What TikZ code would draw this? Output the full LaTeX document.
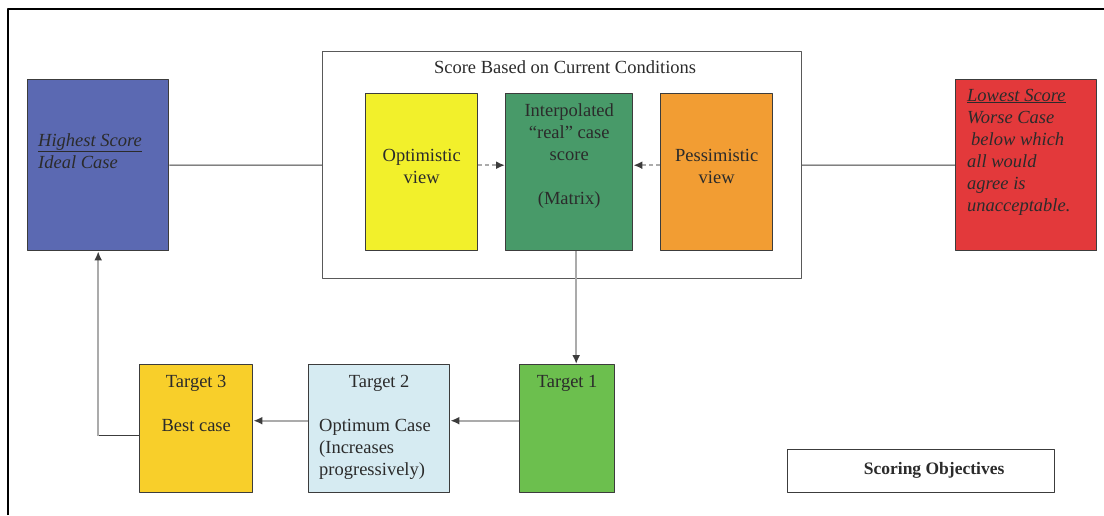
\documentclass[tikz,border=0pt]{standalone}
\usepackage{fontspec}
\setmainfont{Liberation Serif}
\usetikzlibrary{arrows.meta}
\definecolor{edge}{HTML}{3C3C3C}
\definecolor{ink}{HTML}{2B2B2B}
\definecolor{flowgray}{HTML}{ABABAB}
\definecolor{idealblue}{HTML}{5B69B2}
\definecolor{optyellow}{HTML}{F2F02B}
\definecolor{interpgreen}{HTML}{489A69}
\definecolor{pessorange}{HTML}{F29D33}
\definecolor{worstred}{HTML}{E3393B}
\definecolor{tonegreen}{HTML}{6CBF4E}
\definecolor{ttwoblue}{HTML}{D6EBF2}
\definecolor{tthreegold}{HTML}{F8CF2A}
\begin{document}
\begin{tikzpicture}[x=1pt,y=-1pt,line join=round]
  \tikzset{box/.style={draw=edge,line width=1.4pt,inner sep=0pt,anchor=north west},
           txt/.style={font=\fontsize{18.5}{22}\selectfont,text=ink,inner sep=0pt},
           note/.style={txt,font=\fontsize{18.5}{22}\selectfont\itshape},
           link/.style={draw=edge,line width=1.1pt},
           flow/.style={draw=flowgray,line width=2.4pt,-{Latex[length=9pt,width=8pt,color=edge]}},
           guess/.style={flow,dash pattern=on 4pt off 3pt}}
  \useasboundingbox (0,0) rectangle (1104,515);
  % frame
  \draw[line width=2.2pt] (8,515) -- (8,9) -- (1104,9);
  % top row (label yshift is to the last baseline)
  \node[box,fill=idealblue,minimum width=141pt,minimum height=171pt,
    label={[note,anchor=base west,align=left,xshift=11pt,yshift=-89pt]north west:{\underline{Highest Score}\\Ideal Case}}] (high) at (27,79) {};
  \node[box,draw=edge!85,line width=1.2pt,minimum width=479pt,minimum height=227pt,
    label={[txt,anchor=base,xshift=3pt,yshift=-22pt]north:Score Based on Current Conditions}] (cond) at (322,51) {};
  \node[box,fill=optyellow,minimum width=112pt,minimum height=157pt,
    label={[txt,anchor=base,align=center,yshift=-90pt]north:Optimistic\\view}] (opt) at (365,93) {};
  \node[box,fill=interpgreen,minimum width=127pt,minimum height=157pt,
    label={[txt,anchor=base,align=center,yshift=-111pt]north:Interpolated\\``real'' case\\score\\[22pt](Matrix)}] (interp) at (505,93) {};
  \node[box,fill=pessorange,minimum width=112pt,minimum height=157pt,
    label={[txt,anchor=base,align=center,yshift=-90pt]north:Pessimistic\\view}] (pess) at (660,93) {};
  \node[box,fill=worstred,minimum width=141pt,minimum height=171pt,
    label={[note,anchor=base west,align=left,xshift=12pt,yshift=-132pt]north west:{\underline{Lowest Score}\\Worse Case\\\hspace*{4pt}below which\\all would\\agree is\\unacceptable.}}] (low) at (955,79) {};
  % targets
  \node[box,fill=tonegreen,minimum width=95pt,minimum height=128pt,
    label={[txt,anchor=base,yshift=-23pt]north:Target 1}] (t1) at (519,364) {};
  \node[box,fill=ttwoblue,minimum width=141pt,minimum height=128pt,
    label={[txt,anchor=base,yshift=-23pt]north:Target 2},
    label={[txt,anchor=base west,align=left,xshift=11pt,yshift=-111pt]north west:Optimum Case\\(Increases\\progressively)}] (t2) at (308,364) {};
  \node[box,fill=tthreegold,minimum width=113pt,minimum height=128pt,
    label={[txt,anchor=base,align=center,yshift=-67pt]north:Target 3\\[22pt]Best case}] (t3) at (139,364) {};
  \node[box,line width=1.2pt,minimum width=267pt,minimum height=43pt] (obj) at (787,449) {};
  \node[txt,font=\fontsize{17.5}{22}\selectfont\bfseries,anchor=base] (objtext) at ([xshift=13pt,yshift=-3pt]obj.center) {Scoring Objectives};
  % connectors
  \draw[link] (high) -- (cond);
  \draw[link] (cond) -- (low);
  \draw[guess] (opt.east |- high) -- (interp.west |- high);
  \draw[guess] (pess.west |- high) -- (interp.east |- high);
  \draw[flow] ([xshift=7pt]interp.south) -- ([xshift=7pt]interp.south |- t1.north);
  \draw[flow] ([yshift=8pt]t1.west) -- ([yshift=8pt]t2.east);
  \draw[flow] ([yshift=8pt]t2.west) -- ([yshift=8pt]t3.east);
  \coordinate (bend) at ([yshift=-7pt]t3.west -| high.south);
  \draw[link] ([yshift=-7pt]t3.west) -- (bend);
  \draw[flow] (bend) -- (high.south);
\end{tikzpicture}
\end{document}
